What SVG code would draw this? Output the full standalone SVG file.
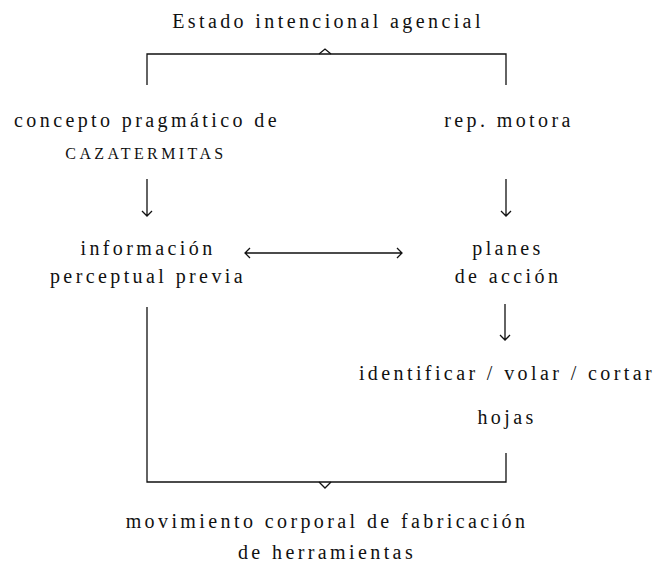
<svg xmlns="http://www.w3.org/2000/svg" width="657" height="567" viewBox="0 0 657 567">
<style>
text{font-family:"Liberation Serif","DejaVu Serif",serif;font-size:20px;letter-spacing:3.4px;fill:#111111;text-anchor:middle}
.sc{font-size:16px;letter-spacing:3.4px}
.ln{fill:none;stroke:#111111;stroke-width:1.3}
</style>
<rect width="657" height="567" fill="#ffffff"/>
<g id="connectors">
<path class="ln" d="M147,85 V54 H506 V85"/>
<path class="ln" d="M319,54 L325,49 L331,54"/>
<path class="ln" d="M147,179 V216 M142,211 L147,216 L152,211"/>
<path class="ln" d="M506,179 V216 M501,211 L506,216 L511,211"/>
<path class="ln" d="M245,253 H402 M250,248 L245,253 L250,258 M397,248 L402,253 L397,258"/>
<path class="ln" d="M505,304 V340 M500,335 L505,340 L510,335"/>
<path class="ln" d="M147,307 V482 H506 V453"/>
<path class="ln" d="M319,482 L325,488 L331,482"/>
</g>
<g id="estado"><text x="328" y="28">Estado intencional agencial</text></g>
<g id="concepto"><text x="147" y="127">concepto pragmático de</text><text class="sc" x="146" y="159">CAZATERMITAS</text></g>
<g id="rep"><text x="509" y="127">rep. motora</text></g>
<g id="informacion"><text x="148" y="255">información</text><text x="148" y="283">perceptual previa</text></g>
<g id="planes"><text x="508" y="255">planes</text><text x="508" y="283">de acción</text></g>
<g id="identificar"><text x="507" y="380">identificar / volar / cortar</text><text x="507" y="424">hojas</text></g>
<g id="movimiento"><text x="327" y="528">movimiento corporal de fabricación</text><text x="327" y="559">de herramientas</text></g>
</svg>
